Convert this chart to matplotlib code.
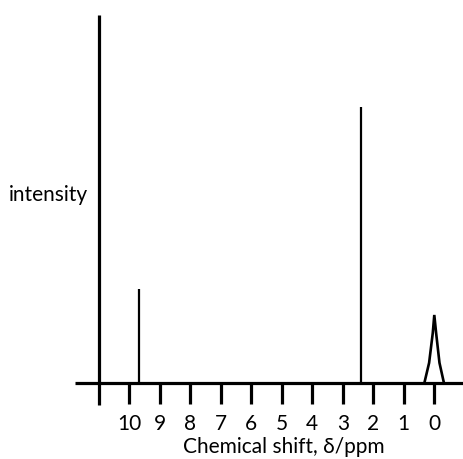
import matplotlib
matplotlib.use("Agg")
import matplotlib.pyplot as plt

plt.rcParams['font.family'] = ['Lato', 'DejaVu Sans']

# peaks (ppm, relative intensity)
peak_shift = [9.69, 2.41]
peak_height = [0.256, 0.75]

# TMS reference peak outline
tms_shift = [0.33, 0.17, 0.05, 0.0, -0.06, -0.17, -0.32]
tms_height = [0.0, 0.056, 0.137, 0.186, 0.137, 0.056, 0.0]

tick_vals = list(range(10, -1, -1))
tick_labels = [str(v) for v in tick_vals]
axis_pos = 11

fig = plt.figure(figsize=(4.64, 4.59), dpi=100)
ax = fig.add_axes([0, 0, 1, 1])
ax.set_xlim(14.24, -0.974)
ax.set_ylim(-0.2049, 1.0407)
ax.axis('off')

# baseline and vertical axis
ax.plot([11.78, -0.95], [0, 0], color='black', lw=2.3, solid_capstyle='butt')
ax.plot([axis_pos, axis_pos], [-0.058, 1.0], color='black', lw=2.3, solid_capstyle='butt')

# ticks
ax.vlines(tick_vals, -0.056, 0, color='black', lw=2.3)
for v, lab in zip(tick_vals, tick_labels):
    ax.text(v, -0.126, lab, ha='center', va='baseline', fontsize=15)

# peaks
ax.vlines(peak_shift, 0, peak_height, color='black', lw=1.6)
ax.plot(tms_shift, tms_height, color='black', lw=1.9, solid_joinstyle='miter')

ax.text(4.95, -0.1886, 'Chemical shift, \u03b4/ppm', ha='center', va='baseline', fontsize=15)
ax.text(11.35, 0.495, 'intensity', ha='right', va='baseline', fontsize=15)

fig.savefig('out.png', dpi=100)
